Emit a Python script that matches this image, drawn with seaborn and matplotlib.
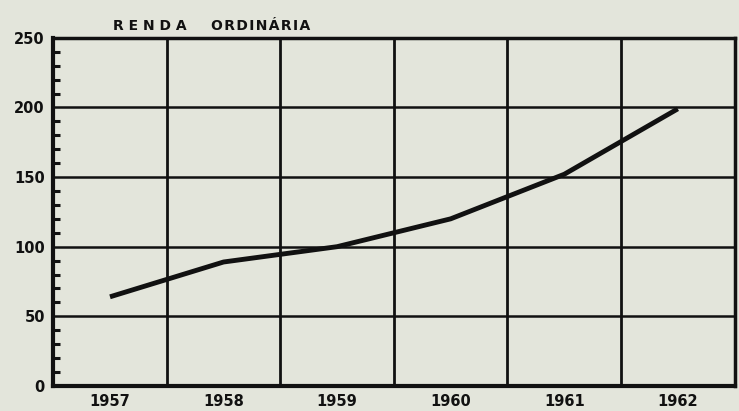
import numpy as np
import pandas as pd
import matplotlib
matplotlib.use("Agg")
import matplotlib.pyplot as plt
import seaborn as sns
from matplotlib.ticker import MultipleLocator

years = ["1957", "1958", "1959", "1960", "1961", "1962"]
renda = [64, 89, 100, 120, 152, 199]
y_ticks = [0, 50, 100, 150, 200, 250]

df = pd.DataFrame({"pos": np.arange(len(years)), "renda": renda})

paper = "#e3e5db"
ink = "#111111"

sns.set_style("white")
plt.rcParams["font.family"] = ["DejaVu Sans"]

fig = plt.figure(figsize=(7.39, 4.11), dpi=100, facecolor=paper)
ax = fig.add_axes([0.072, 0.061, 0.922, 0.847])
ax.set_facecolor(paper)

sns.lineplot(data=df, x="pos", y="renda", ax=ax, color=ink, linewidth=3.5,
             solid_capstyle="butt")

ax.set_xlim(-0.5, len(years) - 0.5)
ax.set_ylim(0, 250)

# grid: vertical lines between years, horizontal every 50
for xv in np.arange(0.5, len(years) - 0.5, 1):
    ax.axvline(xv, color=ink, linewidth=2, zorder=1)
for yv in y_ticks[1:-1]:
    ax.axhline(yv, color=ink, linewidth=1.8, zorder=1)

for side in ["left", "bottom", "top", "right"]:
    ax.spines[side].set_visible(True)
    ax.spines[side].set_color(ink)
ax.spines["left"].set_linewidth(3)
ax.spines["bottom"].set_linewidth(3)
ax.spines["top"].set_linewidth(2.5)
ax.spines["right"].set_linewidth(2.5)

ax.set_xticks(np.arange(len(years)))
ax.set_xticklabels(years, fontsize=10.5, fontweight="bold", color=ink)
ax.set_yticks(y_ticks)
ax.set_yticklabels([str(v) for v in y_ticks], fontsize=10.5, fontweight="bold", color=ink)
ax.tick_params(axis="both", which="major", length=0, pad=6)
ax.yaxis.set_minor_locator(MultipleLocator(10))
ax.tick_params(axis="y", which="minor", direction="in", length=5, width=2.2,
               color=ink, left=True)
ax.set_xlabel("")
ax.set_ylabel("")

title = "R E N D A     " + "\u200a".join("ORDINÁRIA")
fig.text(0.153, 0.937, title, fontsize=10, fontweight="bold", color=ink,
         ha="left", va="center")

fig.savefig("out.png", dpi=100, facecolor=paper)
